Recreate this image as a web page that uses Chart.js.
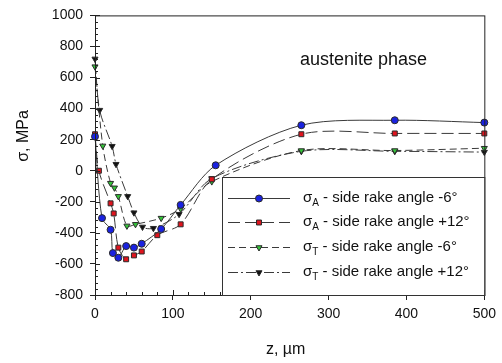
<!DOCTYPE html>
<html>
<head>
<meta charset="utf-8">
<script src="https://cdn.jsdelivr.net/npm/chart.js@4"></script>
<style>
  html, body { margin: 0; padding: 0; background: white; }
  #wrap { width: 502px; height: 363px; }
</style>
</head>
<body>
<div id="wrap"><canvas id="stress-plot" width="502" height="363"></canvas></div>
<script>
// depth z (µm) and stress (MPa)
const zBlue = [0, 9, 20, 23, 30, 40, 50, 60, 85, 110, 155, 265, 385, 500];
const sBlue = [220, -305, -380, -530, -560, -485, -495, -470, -375, -220, 35, 293, 325, 310];

const zRed = [0, 5, 20, 24, 30, 40, 50, 60, 80, 110, 150, 265, 385, 500];
const sRed = [235, 0, -210, -275, -495, -570, -545, -520, -415, -345, -55, 235, 240, 240];

const zGreen = [0, 10, 20, 25, 30, 41, 52, 85, 110, 150, 265, 385, 500];
const sGreen = [670, 160, -80, -110, -165, -355, -345, -305, -245, -70, 130, 130, 145];

const zBlack = [0, 6, 22, 27, 42, 50, 61, 75, 108, 150, 265, 385, 500];
const sBlack = [720, 390, 158, 42, -165, -270, -362, -370, -280, -50, 125, 125, 120];

const xTicks = [0, 100, 200, 300, 400, 500];
const yTicks = [-800, -600, -400, -200, 0, 200, 400, 600, 800, 1000];

const legendItems = [
    { sub: "A", text: " - side rake angle -6°" },
    { sub: "A", text: " - side rake angle +12°" },
    { sub: "T", text: " - side rake angle -6°" },
    { sub: "T", text: " - side rake angle +12°" },
];

const FONT = "'Liberation Sans', Arial, sans-serif";
const toPoints = (zs, ss) => zs.map((z, i) => ({ x: z, y: ss[i] }));

function series(data, fill, style, dash, rotation) {
    return {
        data: data,
        borderColor: "#3a3a3a",
        borderWidth: 1,
        borderDash: dash,
        pointStyle: style,
        rotation: rotation,
        pointRadius: 3.5,
        pointBackgroundColor: fill,
        pointBorderColor: "#2a2a2a",
        pointBorderWidth: 1,
        tension: 0.3,
        clip: false,
    };
}

const datasets = [
    series(toPoints(zBlue, sBlue), "#1a22e0", "circle", [], 0),
    series(toPoints(zRed, sRed), "#e0141e", "rect", [12, 5], 0),
    series(toPoints(zGreen, sGreen), "#35c43a", "triangle", [7, 4], 180),
    series(toPoints(zBlack, sBlack), "#111111", "triangle", [10, 3, 2, 3], 180),
];

// frame, minor ticks, titles, in-plot label and legend with subscripts
const decorations = {
    id: "decorations",
    afterDraw(chart) {
        const { ctx, chartArea: a, scales: { x, y } } = chart;
        ctx.save();
        ctx.strokeStyle = "#222";
        ctx.lineWidth = 1;
        ctx.strokeRect(a.left + 0.5, a.top + 0.5, a.right - a.left, a.bottom - a.top);

        ctx.beginPath();
        for (let v = -800; v <= 1000; v += 40) {
            const py = Math.round(y.getPixelForValue(v)) + 0.5;
            const len = v % 200 === 0 ? 5 : 3;
            ctx.moveTo(a.left, py); ctx.lineTo(a.left + len, py);
        }
        for (let v = 0; v <= 500; v += 20) {
            const px = Math.round(x.getPixelForValue(v)) + 0.5;
            const len = v % 100 === 0 ? 5 : 3;
            ctx.moveTo(px, a.bottom); ctx.lineTo(px, a.bottom - len);
        }
        ctx.stroke();

        ctx.fillStyle = "#111";
        ctx.font = "16px " + FONT;
        ctx.textAlign = "center";
        ctx.textBaseline = "middle";
        ctx.fillText("z, µm", x.getPixelForValue(250) - 4, 350);
        ctx.save();
        ctx.translate(24, 136);
        ctx.rotate(-Math.PI / 2);
        ctx.fillText("σ, MPa", 0, 0);
        ctx.restore();

        ctx.font = "18px " + FONT;
        ctx.textAlign = "left";
        ctx.fillText("austenite phase", 300, 60);

        // legend box
        const bx = 222, by = 177, bw = a.right - bx, bh = a.bottom - by;
        ctx.fillStyle = "white";
        ctx.fillRect(bx, by, bw, bh);
        ctx.strokeStyle = "#333";
        ctx.strokeRect(bx + 0.5, by + 0.5, bw, bh);
        const rows = [198, 222, 247, 272];
        legendItems.forEach((item, i) => {
            const ds = chart.data.datasets[i];
            const ry = rows[i] + 0.5;
            ctx.strokeStyle = ds.borderColor;
            ctx.lineWidth = 1;
            ctx.setLineDash(ds.borderDash);
            ctx.beginPath();
            ctx.moveTo(228, ry); ctx.lineTo(290, ry);
            ctx.stroke();
            ctx.setLineDash([]);
            ctx.fillStyle = ds.pointBackgroundColor;
            ctx.strokeStyle = ds.pointBorderColor;
            Chart.helpers.drawPoint(ctx, {
                pointStyle: ds.pointStyle, rotation: ds.rotation,
                radius: 3.5, borderWidth: 1,
            }, 259, ry);
            ctx.fillStyle = "#111";
            ctx.textBaseline = "middle";
            ctx.font = "15px " + FONT;
            let tx = 303;
            ctx.fillText("σ", tx, rows[i]);
            tx += ctx.measureText("σ").width;
            ctx.font = "10px " + FONT;
            ctx.fillText(item.sub, tx, rows[i] + 5);
            tx += ctx.measureText(item.sub).width;
            ctx.font = "15px " + FONT;
            ctx.fillText(item.text, tx, rows[i]);
        });
        ctx.restore();
    },
};

const ctx = document.getElementById("stress-plot").getContext("2d");
new Chart(ctx, {
    type: "line",
    data: { datasets: datasets },
    options: {
        responsive: false,
        animation: false,
        layout: { padding: { top: 14, right: 14, left: 0, bottom: 0 } },
        scales: {
            x: {
                type: "linear",
                min: 0,
                max: 500,
                afterBuildTicks: (s) => { s.ticks = xTicks.map(v => ({ value: v })); },
                afterFit: (s) => { s.height = 68; },
                grid: { drawOnChartArea: false, tickLength: 5, color: "#222" },
                border: { color: "#222" },
                ticks: { color: "#111", padding: 6, font: { family: FONT, size: 14 }, callback: (v) => String(v) },
            },
            y: {
                min: -800,
                max: 1000,
                afterBuildTicks: (s) => { s.ticks = yTicks.map(v => ({ value: v })); },
                afterFit: (s) => { s.width = 95; },
                grid: { drawOnChartArea: false, tickLength: 5, color: "#222" },
                border: { color: "#222" },
                ticks: { color: "#111", padding: 7, font: { family: FONT, size: 14 }, callback: (v) => String(v) },
            },
        },
        plugins: {
            legend: { display: false },
            tooltip: { enabled: false },
        },
    },
    plugins: [decorations],
});
</script>
</body>
</html>
